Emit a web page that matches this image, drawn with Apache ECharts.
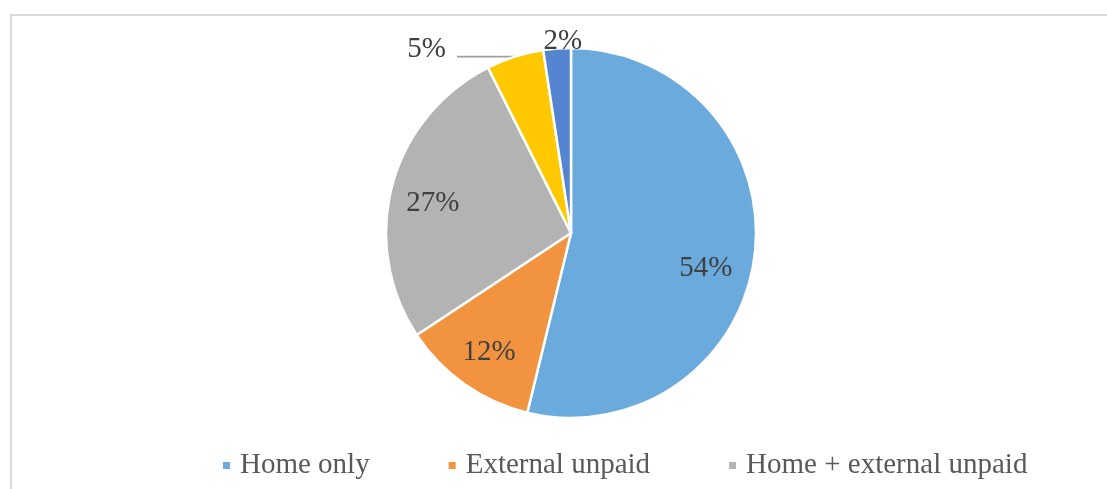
<!DOCTYPE html>
<html>
<head>
<meta charset="utf-8">
<script src="https://cdn.jsdelivr.net/npm/echarts@6/dist/echarts.min.js"></script>
<style>
  html, body { margin: 0; padding: 0; background: #fff; }
  #chart { width: 1107px; height: 489px; }
</style>
</head>
<body>
<div id="chart"></div>
<script>
  // slice names, shares (percent) and colours
  var categories = ['Home only', 'External unpaid', 'Home + external unpaid', 'External paid', 'Home + external paid'];
  var shares = [53.8, 11.9, 26.9, 5.0, 2.4];
  var legendNames = ['Home only', 'External unpaid', 'Home + external unpaid'];
  var colors = ['#6BAADC', '#F29340', '#B3B3B3', '#FFC800', '#5585D0'];

  // label nudges from the library's default spot
  var nudges = [[40, 24], [-27, 41], [-46, -5], [-6, -7], [30, -7]];

  var chart = echarts.init(document.getElementById('chart'));

  var pieData = categories.map(function (name, i) {
    var item = {name: name, value: shares[i], itemStyle: {color: colors[i]}};
    if (i === 3) {
      item.label = {position: 'outside'};
      item.labelLine = {show: true, length: 0, length2: 58};
    } else if (i === 4) {
      item.label = {position: 'outside'};
      item.labelLine = {show: false, length: 0, length2: 0};
    }
    return item;
  });

  chart.setOption({
    animation: false,
    graphic: [{
      type: 'rect',
      shape: {x: 11, y: 15, width: 1098, height: 500},
      style: {fill: 'none', stroke: '#d9d9d9', lineWidth: 2},
      silent: true
    }],
    legend: {
      data: legendNames,
      left: 216,
      top: 446,
      icon: 'rect',
      itemWidth: 9,
      itemHeight: 9,
      itemGap: 77,
      textStyle: {
        fontFamily: 'Liberation Serif',
        fontSize: 29,
        color: '#595959',
        padding: [0, 0, 0, 4]
      }
    },
    series: [{
      type: 'pie',
      center: [571, 233],
      radius: [0, 185],
      startAngle: 90,
      clockwise: true,
      avoidLabelOverlap: false,
      itemStyle: {borderColor: '#fff', borderWidth: 2.5},
      label: {
        position: 'inside',
        formatter: function (p) { return Math.round(p.value) + '%'; },
        fontFamily: 'Liberation Serif',
        fontSize: 29,
        color: '#404040'
      },
      labelLine: {lineStyle: {color: '#a0a0a0', width: 1.8}},
      labelLayout: function (p) {
        var n = nudges[p.dataIndex];
        return {dx: n[0], dy: n[1]};
      },
      emphasis: {disabled: true},
      data: pieData
    }]
  });
</script>
</body>
</html>
